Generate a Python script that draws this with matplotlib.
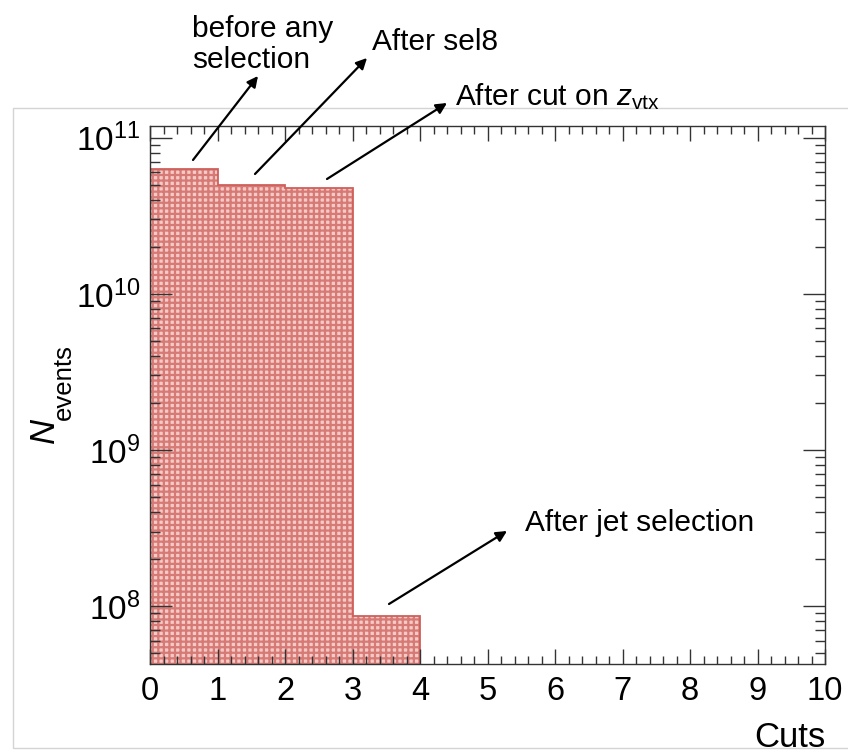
import numpy as np
import matplotlib
matplotlib.use("Agg")
import matplotlib.pyplot as plt
from matplotlib.patches import Rectangle, FancyArrowPatch
from matplotlib.ticker import LogLocator, MultipleLocator, NullFormatter

plt.rcParams['font.family'] = ['Liberation Sans', 'DejaVu Sans']
plt.rcParams['mathtext.fontset'] = 'custom'
plt.rcParams['mathtext.rm'] = 'Liberation Sans'
plt.rcParams['mathtext.it'] = 'Liberation Sans:italic'
plt.rcParams['mathtext.bf'] = 'Liberation Sans:bold'
plt.rcParams['hatch.linewidth'] = 1.6

# event counts after each cut
bin_edges = [0, 1, 2, 3, 4]
n_events = [6.27e10, 5.02e10, 4.78e10, 8.63e7]
cut_labels = ["before any\nselection", "After sel8", r"After cut on $z_{\mathrm{vtx}}$", "After jet selection"]

W, H = 848, 753
fig = plt.figure(figsize=(W / 100, H / 100), dpi=100)

# pad border
fig.patches.append(Rectangle((12.5 / W, 5 / H), 1.0, 640 / H, transform=fig.transFigure,
                             fill=False, edgecolor='#d4d4d4', lw=1.0, zorder=0))

ax = fig.add_axes([150 / W, 89 / H, 675 / W, 538 / H])

ax.stairs(n_events, bin_edges, fill=True, baseline=1e6, facecolor='#f4cac6',
          edgecolor='#d77a76', hatch='+++', lw=0)
ax.stairs(n_events, bin_edges, baseline=1e6, color='#d0605c', lw=1.3)

ax.set_yscale('log')
ax.set_xlim(0, 10)
ax.set_ylim(4.25e7, 1.19e11)

ax.xaxis.set_major_locator(MultipleLocator(1))
ax.xaxis.set_minor_locator(MultipleLocator(0.2))
ax.yaxis.set_major_locator(LogLocator(base=10, numticks=10))
ax.yaxis.set_minor_locator(LogLocator(base=10, subs=np.arange(2, 10), numticks=20))
ax.yaxis.set_minor_formatter(NullFormatter())

ax.tick_params(axis='both', which='both', direction='in', top=True, right=True, color='#333333')
ax.tick_params(axis='x', which='major', length=11, width=1.0, labelsize=23.5, pad=9)
ax.tick_params(axis='x', which='minor', length=5.5, width=1.0)
ax.tick_params(axis='y', which='major', length=16, width=1.0, labelsize=24, pad=7)
ax.tick_params(axis='y', which='minor', length=7.5, width=1.0)
for s in ax.spines.values():
    s.set_color('#333333')
    s.set_linewidth(1.0)

ax.set_xlabel("Cuts", fontsize=25, loc='right', labelpad=10)

# y title: italic N with a smaller "events" subscript
fig.text(54 / W, (H - 430) / H, "N", fontsize=25, style='italic', rotation=90,
         rotation_mode='anchor', ha='center', va='baseline')
fig.text(71 / W, (H - 382) / H, "events", fontsize=18.5, rotation=90,
         rotation_mode='anchor', ha='center', va='baseline')

# labels and arrows above/next to each bin
text_pos = [(192, 68), (372, 50), (455, 105), (525, 531)]
arrow_tail = [(193, 160), (255, 174), (327, 179), (389, 604)]
arrow_head = [(258, 76), (367, 58), (447, 103), (507, 531)]
for lab, (tx, ty), (x0, y0), (x1, y1) in zip(cut_labels, text_pos, arrow_tail, arrow_head):
    fig.text(tx / W, (H - ty) / H, lab, fontsize=21.5, ha='left', va='baseline',
             linespacing=1.15, multialignment='left')
    fig.add_artist(FancyArrowPatch((x0, H - y0), (x1, H - y1), transform=None,
                                   arrowstyle='-|>', mutation_scale=16, lw=1.6,
                                   color='black', shrinkA=0, shrinkB=0))

fig.savefig("out.png", dpi=100)
